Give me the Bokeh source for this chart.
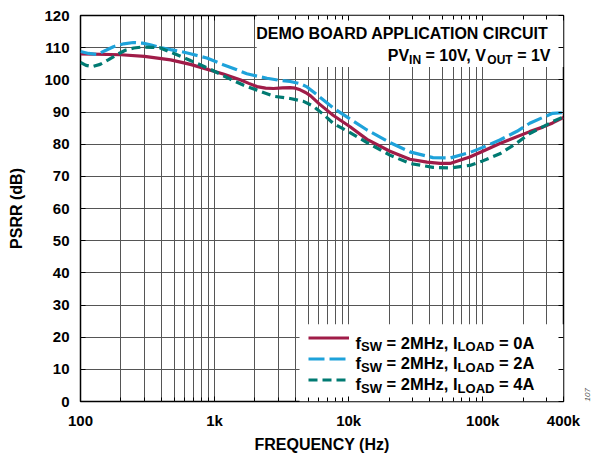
import math
from bokeh.plotting import figure
from bokeh.models import (FixedTicker, LogAxis, LinearAxis, BoxAnnotation, Label,
                          Legend, LegendItem)
from bokeh.embed import file_html
from bokeh.resources import INLINE

# ---------------- data ----------------
freq_0A = [100, 200, 300, 470, 660, 1160, 1550, 1800, 2070, 2400, 2750, 3200, 3660, 4000,
           4350, 4800, 5200, 6000, 7650, 10240, 13710, 20300, 28600, 38400, 48000, 57000,
           80000, 100000, 134000, 224000, 280000, 332000, 400000]
psrr_0A = [108.1, 107.8, 107.3, 106.2, 104.8, 101.8, 100.0, 98.9, 97.9, 97.4, 97.3, 97.5, 97.6, 97.4,
           96.9, 96.0, 95.0, 92.6, 89.0, 85.4, 81.5, 77.8, 75.3, 74.4, 74.0, 74.0,
           76.0, 77.8, 80.2, 83.9, 85.3, 86.6, 88.3]

freq_2A = [100, 115, 133, 155, 176, 210, 248, 290, 332, 400, 470, 560, 660, 875, 1160, 1450,
           1740, 2100, 2460, 3000, 3660, 4350, 4840, 5820, 7650, 10240, 13710, 20300, 28600,
           42500, 57000, 80000, 100000, 134000, 180000, 224000, 280000, 332000, 400000]
psrr_2A = [108.8, 108.2, 107.9, 109.2, 110.3, 111.2, 111.6, 111.4, 110.9, 110.0, 109.4, 108.8,
           108.1, 106.8, 104.7, 103.2, 101.9, 101.1, 100.5, 99.9, 99.5, 98.8, 97.9, 95.3, 91.3,
           87.8, 84.4, 80.5, 77.6, 75.8, 75.7, 77.4, 79.0, 81.3, 84.0, 86.5, 88.3, 89.6, 89.8]

freq_4A = [100, 110, 122, 140, 162, 190, 216, 250, 288, 340, 390, 470, 560, 660, 930, 1310,
           1650, 2070, 2750, 3660, 4600, 5450, 6500, 7650, 10240, 13710, 20300, 28600, 42500,
           57000, 80000, 100000, 134000, 180000, 224000, 280000, 332000, 400000]
psrr_4A = [105.4, 104.5, 104.1, 104.8, 106.3, 108.0, 109.2, 109.9, 110.2, 110.1, 110.0, 108.6,
           107.3, 106.0, 103.3, 100.2, 98.3, 96.8, 94.9, 94.2, 93.3, 91.8, 89.2, 86.5, 83.6,
           80.5, 76.6, 74.0, 72.8, 72.6, 73.4, 74.8, 77.0, 80.4, 83.3, 85.4, 87.0, 88.5]

x_major_ticks = [100, 1000, 10000, 100000, 400000]
x_tick_labels = ["100", "1k", "10k", "100k", "400k"]
x_minor_ticks = ([m * 100 for m in range(2, 10)] + [m * 1000 for m in range(2, 10)] +
                 [m * 10000 for m in range(2, 10)] + [200000, 300000])
y_ticks = list(range(0, 121, 10))

FONT = "Liberation Sans"
RED, BLUE, TEAL = "#a01c48", "#1ea2da", "#007a72"
GRID = "#555555"

# ---------------- figure ----------------
p = figure(width=598, height=455, x_axis_type="log", x_range=(100, 400000), y_range=(0, 120),
           output_backend="svg", toolbar_location=None,
           min_border_left=80, min_border_right=35, min_border_top=15, min_border_bottom=54)
p.outline_line_color = "black"
p.outline_line_width = 1.5
p.background_fill_color = "white"

xt = FixedTicker(ticks=x_major_ticks, minor_ticks=x_minor_ticks)
yt = FixedTicker(ticks=y_ticks)
overrides = {float(v): s for v, s in zip(x_major_ticks, x_tick_labels)}

xa = p.xaxis[0]
xa.ticker = xt
xa.major_label_overrides = overrides
ya = p.yaxis[0]
ya.ticker = yt

for ax in (xa, ya):
    ax.axis_line_color = None
    ax.major_tick_in = 5
    ax.major_tick_out = 0
    ax.minor_tick_in = 4
    ax.minor_tick_out = 0
    ax.major_tick_line_color = "black"
    ax.minor_tick_line_color = "black"
    ax.major_label_text_font = FONT
    ax.major_label_text_font_style = "bold"
    ax.major_label_text_font_size = "15px"
    ax.major_label_text_color = "black"
    ax.axis_label_text_font = FONT
    ax.axis_label_text_font_style = "bold"
    ax.axis_label_text_font_size = "16px"
    ax.axis_label_text_color = "black"
    ax.major_label_standoff = 11

xa.major_label_standoff = 10
xa.axis_label = "FREQUENCY (Hz)"
xa.axis_label_standoff = 4
ya.axis_label = "PSRR (dB)"
ya.axis_label_standoff = 16

top_ax = LogAxis(ticker=FixedTicker(ticks=x_major_ticks, minor_ticks=x_minor_ticks),
                 major_label_text_font_size="1px", major_label_text_color=None,
                 major_label_standoff=0,
                 axis_line_color=None, major_tick_in=5, major_tick_out=0,
                 minor_tick_in=4, minor_tick_out=0)
right_ax = LinearAxis(ticker=FixedTicker(ticks=y_ticks), major_label_text_font_size="1px",
                      major_label_text_color=None,
                      major_label_standoff=0, axis_line_color=None, major_tick_in=5,
                      major_tick_out=0, minor_tick_in=0, minor_tick_out=0,
                      axis_label="107", axis_label_text_font=FONT,
                      axis_label_text_font_size="8px", axis_label_text_color="#555555",
                      axis_label_standoff=24, axis_label_orientation=math.pi / 2)
if "axis_label_align" in right_ax.properties():
    right_ax.axis_label_align = "start"
p.add_layout(top_ax, "above")
p.add_layout(right_ax, "right")

p.xgrid.grid_line_color = GRID
p.xgrid.minor_grid_line_color = GRID
p.xgrid.grid_line_width = 1
p.xgrid.minor_grid_line_width = 1
p.ygrid.grid_line_color = GRID
p.ygrid.grid_line_width = 1

# white panels (title block and legend block) hiding the grid
title_box = BoxAnnotation(left=2060, bottom=104, fill_color="white", fill_alpha=1,
                          line_color=None, level="underlay")
legend_box = BoxAnnotation(left=4300, top=24, fill_color="white", fill_alpha=1,
                           line_color=None, level="underlay")
p.add_layout(title_box)
p.add_layout(legend_box)

# ---------------- curves ----------------
r0 = p.line(freq_0A, psrr_0A, line_color=RED, line_width=3.2)
r2 = p.line(freq_2A, psrr_2A, line_color=BLUE, line_width=3.2, line_dash="16 5")
r4 = p.line(freq_4A, psrr_4A, line_color=TEAL, line_width=3.2, line_dash="9 5")

legend = Legend(items=[LegendItem(label=" ", renderers=[r0]),
                       LegendItem(label=" ", renderers=[r2]),
                       LegendItem(label=" ", renderers=[r4])],
                location=(228, 14), orientation="vertical", glyph_width=41, glyph_height=15,
                label_height=15, label_width=1, spacing=6, padding=0, margin=0,
                background_fill_alpha=0, border_line_alpha=0, label_text_font_size="2px")
p.add_layout(legend)

# ---------------- rich text helpers ----------------
W = {' ': 278, '=': 584, ',': 278, 'A': 722, 'B': 722, 'C': 722, 'D': 722, 'E': 667, 'F': 611,
     'H': 722, 'I': 278, 'L': 611, 'M': 833, 'N': 722, 'O': 778, 'P': 667, 'R': 722, 'S': 667,
     'T': 611, 'U': 722, 'V': 667, 'W': 944, 'Y': 667, 'z': 500, 'f': 333, 'k': 556}
for d in "0123456789":
    W[d] = 556

FRAME_LEFT_PAGE, FRAME_BOTTOM_PAGE = 80, 401


def twidth(s, size):
    return sum(W.get(c, 600) for c in s) * size / 1000.0


def rich(pieces, px, py, align="left", main=16, sub=13, drop=4):
    """pieces: list of (text, is_sub); px/py: page coords of start (or end) and baseline."""
    widths = [twidth(t, sub if s else main) for t, s in pieces]
    x = px if align == "left" else px - sum(widths)
    for (t, s), w in zip(pieces, widths):
        size = sub if s else main
        lead = len(t) - len(t.lstrip(" "))
        p.add_layout(Label(x=x + twidth(" " * lead, size) - FRAME_LEFT_PAGE,
                           y=FRAME_BOTTOM_PAGE - (py + (drop if s else 0)),
                           x_units="screen", y_units="screen", text=t.strip(" "),
                           text_font=FONT, text_font_style="bold",
                           text_font_size=f"{size}px", text_color="black",
                           text_align="left", text_baseline="alphabetic"))
        x += w


rich([("DEMO BOARD APPLICATION CIRCUIT", False)], 549, 33, align="right")
rich([("PV", False), ("IN", True), (" = 10V, V", False), ("OUT", True), (" = 1V", False)],
     550, 55, align="right", sub=12)

legend_loads = ["0A", "2A", "4A"]
for load, base in zip(legend_loads, [342, 362.5, 383.5]):
    rich([("f", False), ("SW", True), (" = 2MHz, I", False), ("LOAD", True), (" = " + load, False)],
         355, base, align="left", main=16.5)

open("out.html", "w").write(file_html(p, INLINE))
